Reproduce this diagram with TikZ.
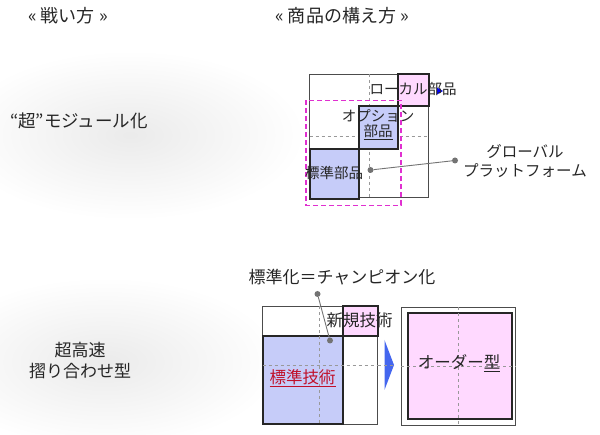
\documentclass[tikz,border=0pt]{standalone}
\usepackage{fontspec}
\setmainfont{Noto Sans CJK JP}
\usepackage{tikz}
\usetikzlibrary{positioning}
\definecolor{stdblue}{HTML}{C6CCF9}
\definecolor{localpink}{HTML}{FFD9FF}
\definecolor{guidemag}{HTML}{E030D0}
\definecolor{arrowblue}{HTML}{4466EE}
\definecolor{stdred}{HTML}{C0102A}

\begin{document}
\begin{tikzpicture}[x=1pt, y=-1pt,
              every node/.style = {inner sep=0pt, text=black!85},
              frame/.style = {draw=black!70, line width=0.9pt},
              part/.style = {draw=black!85, line width=2pt},
              guide/.style = {draw=black!40, dashed, line width=0.6pt},
              pin/.style = {circle, fill=black!55, minimum size=6pt},
              pinline/.style = {draw=black!55, line width=0.9pt}]
  \useasboundingbox (0,0) rectangle (600,435);
  % left column shading
  \shade[inner color=black!8, outer color=white] (130,135) ellipse [x radius=175pt, y radius=85pt];
  \shade[inner color=black!8, outer color=white] (105,362) ellipse [x radius=175pt, y radius=85pt];

  % titles
  \node[font=\fontsize{18}{20}\selectfont] (tstrat) at (68,16) {« 戦い方 »};
  \node[font=\fontsize{18}{20}\selectfont] (tprod) at (342,16) {« 商品の構え方 »};
  \node[font=\fontsize{17.5}{20}\selectfont] (modular) at (79,121) {“超”モジュール化};
  \node[font=\fontsize{17}{21}\selectfont, align=center] (suriawase) at (80,361) {超高速\\摺り合わせ型};

  % top: module structure
  \draw[frame] (309.5,74) rectangle (428.5,197);
  \draw[guide] (369.5,74) -- (369.5,197);
  \draw[guide] (309.5,136) -- (428.5,136);
  \draw[part, fill=localpink] (397.5,74) rectangle (428.5,106);
  \draw[part, fill=stdblue] (358.5,106) rectangle (397.5,149.5);
  \draw[part, fill=stdblue] (310,149.5) rectangle (358.5,199);
  \draw[guidemag, dash pattern=on 5pt off 3pt, line width=1.6pt] (306,100.5) rectangle (401,205.5);
  \fill[blue] (437,87.5) -- (443,91) -- (437,94.5) -- cycle;
  \node[font=\fontsize{14.5}{16}\selectfont] (local) at (413,89) {ローカル部品};
  \node[font=\fontsize{14.5}{16}\selectfont, align=center] (option) at (378,125) {オプション\\[-1pt]\underline{部品}};
  \node[font=\fontsize{14.5}{16}\selectfont] (stdpart) at (334,173) {標準部品};
  \node[pin] (pstd) at (370.5,170) {};
  \node[pin] (pglobal) at (455,160.5) {};
  \draw[pinline] (pstd) -- (pglobal);
  \node[font=\fontsize{15.5}{18.5}\selectfont, align=center] (global) at (525,161) {グローバル\\プラットフォーム};

  % bottom: suriawase structure
  \node[font=\fontsize{17}{18}\selectfont] (champion) at (342,277) {標準化＝チャンピオン化};
  \draw[frame] (262.5,306.5) rectangle (377.5,424);
  \draw[part, fill=localpink] (342.5,306.5) rectangle (377.5,336.5);
  \draw[part, fill=stdblue] (262.5,336.5) rectangle (342.5,424);
  \draw[guide] (319.5,306.5) -- (319.5,424);
  \draw[guide] (262.5,365) -- (377.5,365);
  \node[font=\fontsize{16.5}{18}\selectfont] (newtech) at (359.5,320) {新規技術};
  \node[font=\fontsize{16.5}{18}\selectfont, text=stdred] (stdtech) at (302.5,378) {\underline{標準技術}};
  \node[pin] (pchamp) at (317.5,294) {};
  \node[pin] (ptech) at (330,340.5) {};
  \draw[pinline] (pchamp) -- (ptech);
  \fill[arrowblue] (384.5,340) -- (394,365) -- (384.5,390) -- cycle;
  \draw[frame] (401,307.5) rectangle (515.5,425);
  \draw[part, fill=localpink] (407.5,313) rectangle (512,419);
  \draw[guide] (458.5,307.5) -- (458.5,425);
  \draw[guide] (377.5,365) -- (394,365);
  \draw[guide] (401,366.5) -- (515.5,366.5);
  \node[font=\fontsize{16.5}{18}\selectfont] (order) at (459,363) {オーダー\underline{型}};
\end{tikzpicture}
\end{document}
